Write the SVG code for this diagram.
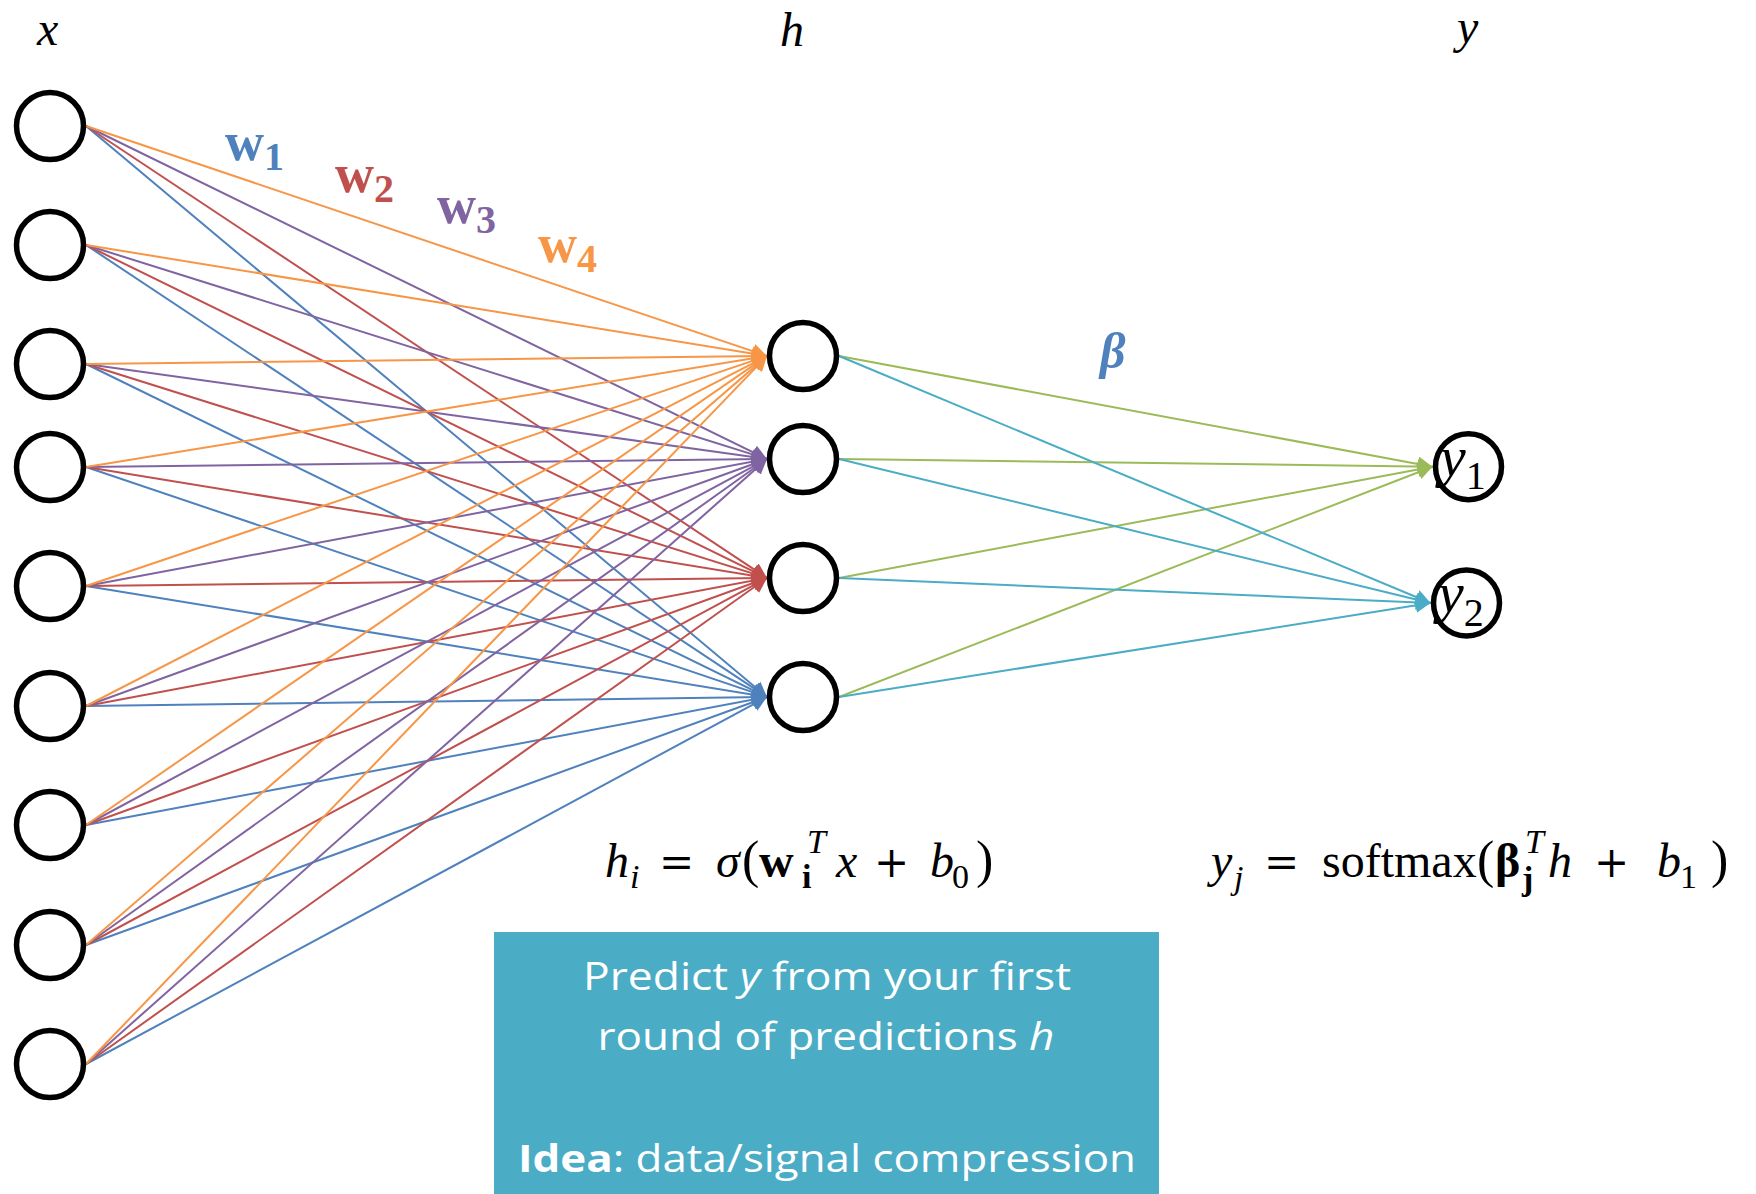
<svg xmlns="http://www.w3.org/2000/svg" width="1756" height="1194" viewBox="0 0 1756 1194">
<style>
.node{fill:#fff;stroke:#000;stroke-width:5.5}
.e{stroke-width:2;fill:none}
.o{stroke:#F79646}.p{stroke:#8064A2}.r{stroke:#C0504D}.b{stroke:#4F81BD}.g{stroke:#9BBB59}.c{stroke:#4BACC6}
.math{font-family:"Liberation Serif","DejaVu Serif",serif;fill:#000}
.op{font-family:"DejaVu Serif","Liberation Serif",serif;font-size:42px}
.it{font-style:italic}
.bd{font-weight:bold}
.box{fill:#4BACC6}
.bt{font-family:"Open Sans","Liberation Sans",sans-serif;font-size:38px;fill:#fff}
</style>
<defs>
<marker id="mo" viewBox="0 0 15 15" refX="15" refY="7.5" markerWidth="15" markerHeight="15" markerUnits="userSpaceOnUse" orient="auto"><path d="M0,0 L15,7.5 L0,15 z" fill="#F79646"/></marker>
<marker id="mp" viewBox="0 0 15 15" refX="15" refY="7.5" markerWidth="15" markerHeight="15" markerUnits="userSpaceOnUse" orient="auto"><path d="M0,0 L15,7.5 L0,15 z" fill="#8064A2"/></marker>
<marker id="mr" viewBox="0 0 15 15" refX="15" refY="7.5" markerWidth="15" markerHeight="15" markerUnits="userSpaceOnUse" orient="auto"><path d="M0,0 L15,7.5 L0,15 z" fill="#C0504D"/></marker>
<marker id="mb" viewBox="0 0 15 15" refX="15" refY="7.5" markerWidth="15" markerHeight="15" markerUnits="userSpaceOnUse" orient="auto"><path d="M0,0 L15,7.5 L0,15 z" fill="#4F81BD"/></marker>
<marker id="mg" viewBox="0 0 15 15" refX="15" refY="7.5" markerWidth="15" markerHeight="15" markerUnits="userSpaceOnUse" orient="auto"><path d="M0,0 L15,7.5 L0,15 z" fill="#9BBB59"/></marker>
<marker id="mc" viewBox="0 0 15 15" refX="15" refY="7.5" markerWidth="15" markerHeight="15" markerUnits="userSpaceOnUse" orient="auto"><path d="M0,0 L15,7.5 L0,15 z" fill="#4BACC6"/></marker>
</defs>

<g id="connectors">
<g class="e b" marker-end="url(#mb)">
<line x1="86" y1="126" x2="767" y2="697"/><line x1="86" y1="245" x2="767" y2="697"/><line x1="86" y1="364" x2="767" y2="697"/><line x1="86" y1="467" x2="767" y2="697"/><line x1="86" y1="586" x2="767" y2="697"/><line x1="86" y1="706" x2="767" y2="697"/><line x1="86" y1="825" x2="767" y2="697"/><line x1="86" y1="945" x2="767" y2="697"/><line x1="86" y1="1064" x2="767" y2="697"/>
</g>
<g class="e r" marker-end="url(#mr)">
<line x1="86" y1="126" x2="767" y2="578"/><line x1="86" y1="245" x2="767" y2="578"/><line x1="86" y1="364" x2="767" y2="578"/><line x1="86" y1="467" x2="767" y2="578"/><line x1="86" y1="586" x2="767" y2="578"/><line x1="86" y1="706" x2="767" y2="578"/><line x1="86" y1="825" x2="767" y2="578"/><line x1="86" y1="945" x2="767" y2="578"/><line x1="86" y1="1064" x2="767" y2="578"/>
</g>
<g class="e p" marker-end="url(#mp)">
<line x1="86" y1="126" x2="767" y2="459"/><line x1="86" y1="245" x2="767" y2="459"/><line x1="86" y1="364" x2="767" y2="459"/><line x1="86" y1="467" x2="767" y2="459"/><line x1="86" y1="586" x2="767" y2="459"/><line x1="86" y1="706" x2="767" y2="459"/><line x1="86" y1="825" x2="767" y2="459"/><line x1="86" y1="945" x2="767" y2="459"/><line x1="86" y1="1064" x2="767" y2="459"/>
</g>
<g class="e o" marker-end="url(#mo)">
<line x1="86" y1="126" x2="767" y2="356"/><line x1="86" y1="245" x2="767" y2="356"/><line x1="86" y1="364" x2="767" y2="356"/><line x1="86" y1="467" x2="767" y2="356"/><line x1="86" y1="586" x2="767" y2="356"/><line x1="86" y1="706" x2="767" y2="356"/><line x1="86" y1="825" x2="767" y2="356"/><line x1="86" y1="945" x2="767" y2="356"/><line x1="86" y1="1064" x2="767" y2="356"/>
</g>
<g class="e g" marker-end="url(#mg)">
<line x1="839" y1="356" x2="1432.5" y2="466.7"/><line x1="839" y1="459" x2="1432.5" y2="466.7"/><line x1="839" y1="578" x2="1432.5" y2="466.7"/><line x1="839" y1="697" x2="1432.5" y2="466.7"/>
</g>
<g class="e c" marker-end="url(#mc)">
<line x1="839" y1="356" x2="1430.5" y2="603"/><line x1="839" y1="459" x2="1430.5" y2="603"/><line x1="839" y1="578" x2="1430.5" y2="603"/><line x1="839" y1="697" x2="1430.5" y2="603"/>
</g>
</g>

<g id="in1"><circle class="node" cx="50" cy="126" r="33.5"/></g>
<g id="in2"><circle class="node" cx="50" cy="245" r="33.5"/></g>
<g id="in3"><circle class="node" cx="50" cy="364" r="33.5"/></g>
<g id="in4"><circle class="node" cx="50" cy="467" r="33.5"/></g>
<g id="in5"><circle class="node" cx="50" cy="586" r="33.5"/></g>
<g id="in6"><circle class="node" cx="50" cy="706" r="33.5"/></g>
<g id="in7"><circle class="node" cx="50" cy="825" r="33.5"/></g>
<g id="in8"><circle class="node" cx="50" cy="945" r="33.5"/></g>
<g id="in9"><circle class="node" cx="50" cy="1064" r="33.5"/></g>

<g id="hid1"><circle class="node" cx="803" cy="356" r="33.5"/></g>
<g id="hid2"><circle class="node" cx="803" cy="459" r="33.5"/></g>
<g id="hid3"><circle class="node" cx="803" cy="578" r="33.5"/></g>
<g id="hid4"><circle class="node" cx="803" cy="697" r="33.5"/></g>

<g id="out1"><circle class="node" cx="1468.5" cy="466.7" r="33"/>
<text class="math it" x="1440" y="476" font-size="58">y<tspan font-style="normal" font-size="40" y="489">1</tspan></text></g>
<g id="out2"><circle class="node" cx="1466.5" cy="603" r="33"/>
<text class="math it" x="1438" y="612" font-size="58">y<tspan font-style="normal" font-size="40" y="626">2</tspan></text></g>

<g id="headings" class="math it" font-size="48">
<text x="37" y="45">x</text>
<text x="780" y="46">h</text>
<text x="1457" y="43">y</text>
</g>

<g id="weight-labels" class="math bd" font-size="54">
<text x="225" y="160" fill="#4F81BD">w<tspan font-size="40" y="170">1</tspan></text>
<text x="335" y="192" fill="#C0504D">w<tspan font-size="40" y="202">2</tspan></text>
<text x="437" y="223" fill="#8064A2">w<tspan font-size="40" y="233">3</tspan></text>
<text x="538" y="262" fill="#F79646">w<tspan font-size="40" y="272">4</tspan></text>
<text x="1100" y="368" font-size="50" font-style="italic" fill="#4F81BD">β</text>
</g>

<g id="formula-h" class="math" font-size="48">
<text y="877"><tspan class="it" x="605">h</tspan><tspan class="it" font-size="34" x="630" y="888">i</tspan><tspan class="op" x="659" y="877">=</tspan><tspan class="it" x="716">σ</tspan><tspan font-size="52" x="742">(</tspan><tspan class="bd" x="759">w</tspan><tspan class="it" font-size="34" x="807" y="853">T</tspan><tspan class="bd" font-size="34" x="802" y="888">i</tspan><tspan class="it" x="836" y="877">x</tspan><tspan class="op" x="874">+</tspan><tspan class="it" x="930">b</tspan><tspan font-size="34" x="952" y="888">0</tspan><tspan font-size="52" x="976" y="877">)</tspan></text>
</g>

<g id="formula-y" class="math" font-size="48">
<text y="877"><tspan class="it" x="1211">y</tspan><tspan class="it" font-size="34" x="1234" y="889">j</tspan><tspan class="op" x="1264" y="877">=</tspan><tspan x="1322">softmax</tspan><tspan font-size="52" x="1477">(</tspan><tspan class="bd" x="1495">β</tspan><tspan class="it" font-size="34" x="1525" y="853">T</tspan><tspan class="bd" font-size="34" x="1522" y="890">j</tspan><tspan class="it" x="1548" y="877">h</tspan><tspan class="op" x="1594">+</tspan><tspan class="it" x="1657">b</tspan><tspan font-size="34" x="1680" y="888">1</tspan><tspan font-size="52" x="1711" y="877">)</tspan></text>
</g>

<g id="callout">
<rect class="box" x="494" y="932" width="665" height="262"/>
<text class="bt" x="827" y="990" text-anchor="middle" textLength="488" lengthAdjust="spacingAndGlyphs">Predict <tspan font-style="italic">y</tspan> from your first</text>
<text class="bt" x="826" y="1050" text-anchor="middle" textLength="457" lengthAdjust="spacingAndGlyphs">round of predictions <tspan font-style="italic">h</tspan></text>
<text class="bt" x="827" y="1172" text-anchor="middle" textLength="618" lengthAdjust="spacingAndGlyphs"><tspan font-weight="bold">Idea</tspan>: data/signal compression</text>
</g>
</svg>
